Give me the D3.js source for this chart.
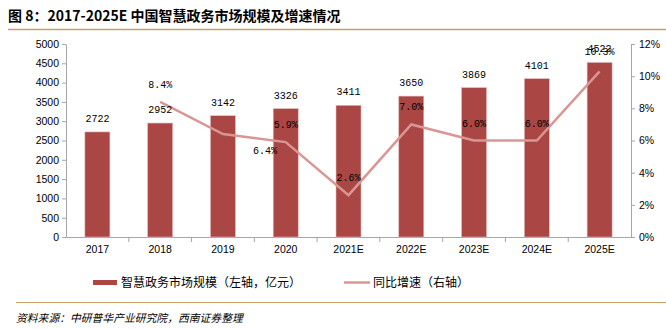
<!DOCTYPE html>
<html><head><meta charset="utf-8">
<script src="https://cdn.jsdelivr.net/npm/d3@7"></script>
<style>
body{margin:0;background:#fff;}
svg{display:block;}
</style></head>
<body>
<svg id="c" width="666" height="329"></svg>
<script>
const categories = ["2017","2018","2019","2020","2021E","2022E","2023E","2024E","2025E"];
const marketSize = [2722,2952,3142,3326,3411,3650,3869,4101,4522];
const growthCats = ["2018","2019","2020","2021E","2022E","2023E","2024E","2025E"];
const growth = [8.4,6.4,5.9,2.6,7.0,6.0,6.0,10.3];
const leftTicks = [0,500,1000,1500,2000,2500,3000,3500,4000,4500,5000];
const rightTicks = [0,2,4,6,8,10,12];

(function(){
const svg = d3.select("#c");
const pL = 66, pR = 631, pT = 44, pB = 237;
const barColor = "#aa4643", lineColor = "#d99694", axisColor = "#a6a6a6";
const numFont = "Liberation Sans, Arial, sans-serif";
const monoFont = "Liberation Mono, DejaVu Sans Mono, monospace";
const cjk = "Noto Sans CJK SC, sans-serif";

// title
svg.append("text").attr("x",8).attr("y",21)
  .attr("font-family",cjk).attr("font-weight","bold").attr("font-size",14).attr("fill","#000")
  .text("图 8：2017-2025E 中国智慧政务市场规模及增速情况");
svg.append("line").attr("x1",8).attr("x2",666).attr("y1",29.5).attr("y2",29.5)
  .attr("stroke","#c9a063").attr("stroke-width",1.5);

const x = d3.scaleBand().domain(categories).range([pL,pR]).paddingInner(0).paddingOuter(0);
const yL = d3.scaleLinear().domain([0,5000]).range([pB,pT]);
const yR = d3.scaleLinear().domain([0,12]).range([pB,pT]);
const bw = 25;

// axes
const gL = svg.append("g").attr("transform",`translate(${pL},0)`)
  .call(d3.axisLeft(yL).tickValues(leftTicks).tickSize(4).tickSizeOuter(0).tickFormat(d3.format("d")));
const gR = svg.append("g").attr("transform",`translate(${pR},0)`)
  .call(d3.axisRight(yR).tickValues(rightTicks).tickSize(4).tickSizeOuter(0).tickFormat(d=>d+"%"));
[gL,gR].forEach(g=>{
  g.select(".domain").attr("stroke",axisColor);
  g.selectAll(".tick line").attr("stroke",axisColor);
  g.selectAll(".tick text").attr("font-family",numFont).attr("font-size",10.5).attr("fill","#000");
});
gL.selectAll(".tick text").attr("x",-7);
gR.selectAll(".tick text").attr("x",8);

// x axis
const gX = svg.append("g").attr("transform",`translate(0,${pB})`)
  .call(d3.axisBottom(x).tickSize(0).tickSizeOuter(0));
gX.select(".domain").attr("stroke",axisColor);
gX.selectAll(".tick text").attr("font-family",numFont).attr("font-size",10.5).attr("fill","#000").attr("dy","1.2em");
gX.selectAll(".sep").data(categories.slice(1)).enter().append("line")
  .attr("x1",d=>x(d)).attr("x2",d=>x(d)).attr("y1",0).attr("y2",5).attr("stroke",axisColor);

// bars
svg.selectAll(".bar").data(categories).enter().append("rect")
  .attr("x",(d)=>x(d)+x.bandwidth()/2-bw/2)
  .attr("y",(d,i)=>yL(marketSize[i]))
  .attr("width",bw)
  .attr("height",(d,i)=>pB-yL(marketSize[i]))
  .attr("fill",barColor).attr("stroke","#e3b9b8").attr("stroke-width",0.6);

// line
const line = d3.line().x(d=>x(d[0])+x.bandwidth()/2).y(d=>yR(d[1]));
svg.append("path").datum(growthCats.map((c,i)=>[c,growth[i]]))
  .attr("d",line).attr("fill","none").attr("stroke",lineColor).attr("stroke-width",2.5);

// bar labels
svg.selectAll(".bl").data(categories).enter().append("text")
  .attr("x",d=>x(d)+x.bandwidth()/2)
  .attr("y",(d,i)=>yL(marketSize[i])-10)
  .attr("text-anchor","middle").attr("font-family",monoFont).attr("font-size",10)
  .attr("fill","#000").text((d,i)=>marketSize[i]);

// growth labels
svg.selectAll(".gl").data(growthCats).enter().append("text")
  .attr("x",(d,i)=>x(d)+x.bandwidth()/2 + (i===1?42:0))
  .attr("y",(d,i)=>yR(growth[i]) + (i===1?20:(i===growth.length-1?-16:-14)))
  .attr("text-anchor","middle").attr("font-family",monoFont).attr("font-size",10)
  .attr("fill","#000").text((d,i)=>growth[i].toFixed(1)+"%");

// legend
svg.append("rect").attr("x",93).attr("y",280).attr("width",24).attr("height",5).attr("fill",barColor);
svg.append("text").attr("x",121).attr("y",286.5).attr("font-family",cjk).attr("font-size",12).attr("fill","#000")
  .text("智慧政务市场规模（左轴，亿元）");
svg.append("line").attr("x1",344).attr("x2",370).attr("y1",282.5).attr("y2",282.5).attr("stroke",lineColor).attr("stroke-width",2.5);
svg.append("text").attr("x",373).attr("y",286.5).attr("font-family",cjk).attr("font-size",12).attr("fill","#000")
  .text("同比增速（右轴）");

// footer
svg.append("line").attr("x1",16).attr("x2",666).attr("y1",302.5).attr("y2",302.5).attr("stroke","#c9a063").attr("stroke-width",1.2);
svg.append("text").attr("x",16).attr("y",322).attr("font-family",cjk).attr("font-size",10.8).attr("font-style","italic")
  .attr("fill","#000")
  .text("资料来源：中研普华产业研究院，西南证券整理");
})();
</script>
</body></html>
